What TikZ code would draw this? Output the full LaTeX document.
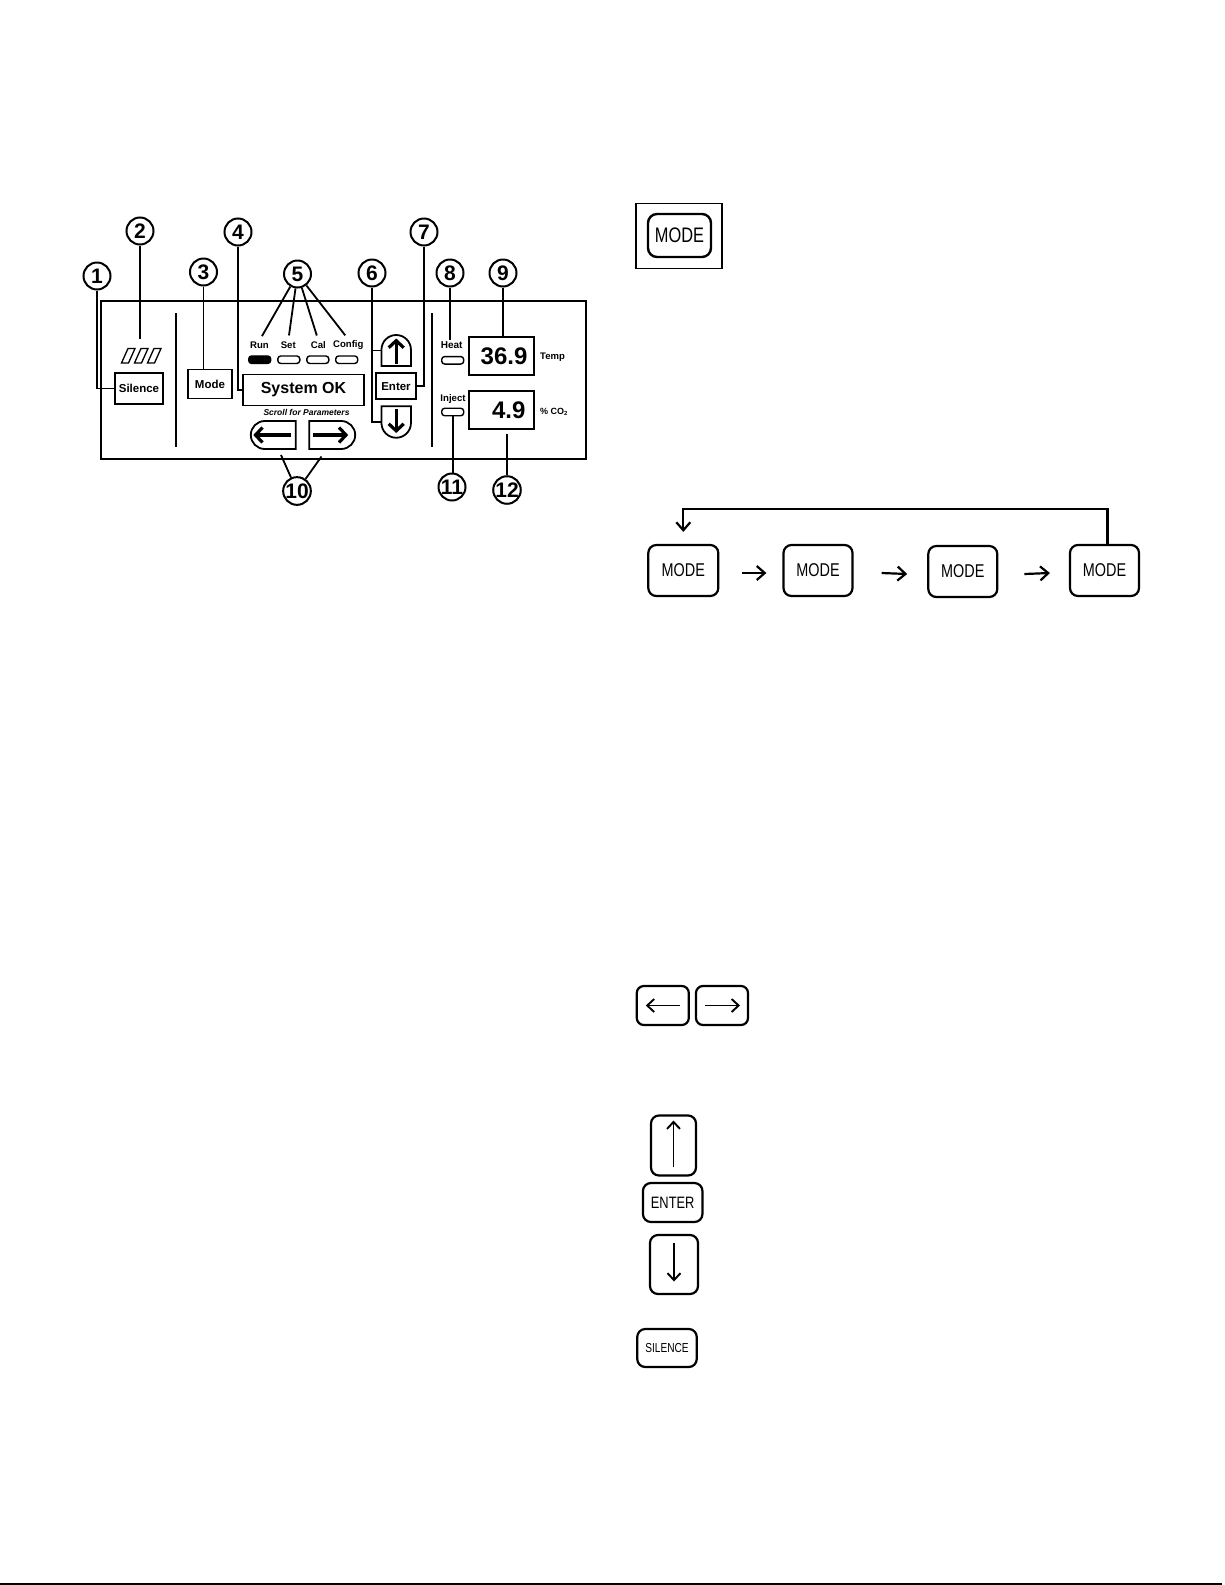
\documentclass[tikz,border=0pt]{standalone}
\usepackage{fontspec}
\setmainfont{Liberation Sans}
\newfontfamily\condsans[FakeStretch=0.78]{Liberation Sans}
\usetikzlibrary{arrows.meta,shapes.misc,positioning}

\tikzset{
  num/.style={circle,draw,line width=2pt,minimum size=27pt,inner sep=0pt,font=\fontsize{21}{21}\selectfont\bfseries},
  lead/.style={line width=1.8pt},
  panelkey/.style={draw,line width=1.8pt,inner sep=0pt},
  led/.style={draw,rounded corners=3pt,line width=1.4pt,minimum width=22pt,minimum height=7.5pt,inner sep=0pt},
  tag/.style={font=\fontsize{9.6}{10}\selectfont\bfseries,inner sep=1pt},
  softkey/.style={draw,rounded corners=8pt,line width=2.2pt,inner sep=0pt,font=\condsans\fontsize{18.5}{19}\selectfont},
  bigarrow/.style={line width=3.2pt,-{Straight Barb[length=7pt,width=15pt]}},
  keyarrow/.style={line width=1.9pt,-{Straight Barb[length=7pt,width=13pt]}},
  flow/.style={line width=2.2pt,-{Straight Barb[length=8pt,width=14pt]}},
}

\begin{document}
\begin{tikzpicture}[x=1pt,y=-1pt]
  \useasboundingbox (0,0) rectangle (1225,1585);

  % front panel
  \draw[line width=2pt] (101,301) rectangle (586,459);
  \draw[line width=1.5pt] (176,313) -- (176,447);
  \draw[line width=1.5pt] (432,313) -- (432,447);

  \node[num] (n1) at (97,276) {1};
  \node[num] (n2) at (140,231) {2};
  \node[num] (n3) at (203.5,272) {3};
  \node[num] (n4) at (238,232) {4};
  \node[num] (n5) at (297.5,274) {5};
  \node[num] (n6) at (372,273) {6};
  \node[num] (n7) at (424,232) {7};
  \node[num] (n8) at (450,273) {8};
  \node[num] (n9) at (503,273) {9};
  \node[num] (n10) at (297,491) {10};
  \node[num] (n11) at (452,487) {11};
  \node[num] (n12) at (507,490) {12};

  \node[panelkey,minimum width=48pt,minimum height=31pt,font=\fontsize{11.5}{12}\selectfont\bfseries] (silence) at (139,388.5) {Silence};
  \node[panelkey,minimum width=44pt,minimum height=29pt,font=\fontsize{11.5}{12}\selectfont\bfseries] (mode) at (210,384) {Mode};
  \node[panelkey,minimum width=121pt,minimum height=31pt,font=\fontsize{16}{16}\selectfont\bfseries] (sysok) at (303.5,390) {System OK};
  \node[panelkey,minimum width=40pt,minimum height=26pt,font=\fontsize{11.5}{12}\selectfont\bfseries] (enter) at (396,386.3) {Enter};
  \node[font=\fontsize{8.5}{9}\selectfont\bfseries\itshape] (scroll) at (306.5,412) {Scroll for Parameters};

  \node[panelkey,rounded rectangle,rounded rectangle east arc=none,minimum width=45pt,minimum height=28pt] (lft) at (273.3,435) {};
  \node[panelkey,rounded rectangle,rounded rectangle west arc=none,minimum width=46pt,minimum height=28pt] (rgt) at (332.2,435) {};
  \node[panelkey,rounded rectangle,rounded rectangle west arc=none,rotate=90,minimum width=31pt,minimum height=29.5pt] (up) at (396.2,350.5) {};
  \node[panelkey,rounded rectangle,rounded rectangle east arc=none,rotate=90,minimum width=31.5pt,minimum height=29.5pt] (down) at (396.2,422) {};
  \draw[bigarrow] ([xshift=18pt]lft.center) -- ([xshift=-20pt]lft.center);
  \draw[bigarrow] ([xshift=-19pt]rgt.center) -- ([xshift=16pt]rgt.center);
  \draw[bigarrow] ([yshift=-13pt]up.center) -- ([yshift=12pt]up.center);
  \draw[bigarrow] ([yshift=13pt]down.center) -- ([yshift=-11pt]down.center);

  \node[tag] (run) at (259.5,345) {Run};
  \node[tag] (set) at (288.3,345) {Set};
  \node[tag] (cal) at (318.3,345) {Cal};
  \node[tag] (config) at (348.3,345) {Config};
  \node[led,fill=black] (runled) at (259.7,359.7) {};
  \node[led] (setled) at (288.8,359.7) {};
  \node[led] (called) at (317.8,359.7) {};
  \node[led] (configled) at (346.7,359.7) {};

  \node[tag,font=\fontsize{10}{11}\selectfont\bfseries] (heat) at (451.7,345) {Heat};
  \node[tag,font=\fontsize{9.6}{11}\selectfont\bfseries] (inject) at (453,399.3) {Inject};
  \node[led] (heatled) at (452.7,360.3) {};
  \node[led] (injled) at (452.7,412) {};

  \node[panelkey,minimum width=65pt,minimum height=38pt] (temp) at (501.5,356) {};
  \node[font=\fontsize{24}{24}\selectfont\bfseries,anchor=east] (tempval) at ([xshift=-4pt]temp.east) {36.9};
  \node[tag,font=\fontsize{9.5}{10}\selectfont\bfseries,anchor=west] (templbl) at (539,357) {Temp};
  \node[panelkey,minimum width=65pt,minimum height=38.5pt] (co2) at (501.5,410) {};
  \node[font=\fontsize{24}{24}\selectfont\bfseries,anchor=east] (co2val) at ([xshift=-6pt]co2.east) {4.9};
  \node[tag,font=\fontsize{9}{10}\selectfont\bfseries,anchor=west] (co2lbl) at (539,412) {\% CO\textsubscript{2}};

  \foreach \i in {0,1,2}
    \draw[line width=1.3pt] ({121.5+13*\i},363) -- ({128.5+13*\i},363) -- ({135+13*\i},348.5) -- ({128+13*\i},348.5) -- cycle;
  \coordinate (alarm) at (140,339);
  \coordinate (l10a) at (281,455);
  \coordinate (l10b) at (321.5,456.5);

  \draw[lead] (n1) |- (silence);
  \draw[lead] (n2) -- (alarm);
  \draw[lead] (n3) -- (n3 |- mode.north);
  \draw[lead] (n4) |- (sysok.west);
  \foreach \t in {run,set,cal,config}
    \draw[lead,shorten >=5pt] (n5) -- (\t.north);
  \draw[lead] (n6) |- (down.north);
  \draw[lead] (n6 |- up.north) -- (up.north);
  \draw[lead] (n7) |- (enter.east);
  \draw[lead] (n8) -- (n8 |- heat.north);
  \draw[lead] (n9) -- (n9 |- temp.north);
  \draw[lead] (injled.south) -- (injled.south |- n11.north);
  \draw[lead,shorten <=4pt] (n12 |- co2.south) -- (n12);
  \draw[lead] (l10a) -- (n10);
  \draw[lead] (l10b) -- (n10);

  % keys
  \node[draw,line width=1.3pt,minimum width=86pt,minimum height=65pt] (modeframe) at (679,235.8) {};
  \node[softkey,minimum width=63pt,minimum height=43pt,rounded corners=9pt,line width=2.4pt,font=\condsans\fontsize{21}{21}\selectfont] (modekey) at (679.5,235.5) {MODE};

  \node[softkey,minimum width=70pt,minimum height=51pt] (m1) at (683.3,570.5) {MODE};
  \node[softkey,minimum width=69pt,minimum height=51pt] (m2) at (818,570.5) {MODE};
  \node[softkey,minimum width=69pt,minimum height=51pt] (m3) at (962.8,571.5) {MODE};
  \node[softkey,minimum width=69pt,minimum height=51pt] (m4) at (1104.5,570.5) {MODE};
  \draw[flow] ([xshift=23pt,yshift=-2.5pt]m1.east) -- ([xshift=-16pt,yshift=-2.5pt]m2.west);
  \draw[flow] ([xshift=28pt,yshift=-2.5pt]m2.east) -- ([xshift=-20pt,yshift=-2.5pt]m3.west);
  \draw[flow] ([xshift=26pt,yshift=-2.5pt]m3.east) -- ([xshift=-19pt,yshift=-2.5pt]m4.west);
  \draw[flow] ([xshift=3pt]m4.north) -- ++(0,-35) -| ([yshift=12pt]m1.north);

  \node[softkey,rounded corners=7pt,minimum width=52pt,minimum height=39pt] (leftkey) at (662.8,1005.5) {};
  \node[softkey,rounded corners=7pt,minimum width=52pt,minimum height=39pt] (rightkey) at (722,1005.5) {};
  \draw[keyarrow] ([xshift=17pt]leftkey.center) -- ([xshift=-17pt]leftkey.center);
  \draw[keyarrow] ([xshift=-17pt]rightkey.center) -- ([xshift=18pt]rightkey.center);

  \node[softkey,minimum width=45pt,minimum height=60pt] (upkey) at (673.5,1145.5) {};
  \draw[keyarrow] ([yshift=-21pt]upkey.center) -- ([yshift=25pt]upkey.center);
  \node[softkey,minimum width=59.5pt,minimum height=39pt,font=\condsans\fontsize{16.5}{17}\selectfont] (enterkey) at (672.7,1202.5) {ENTER};
  \node[softkey,minimum width=48pt,minimum height=59pt] (downkey) at (674,1264.5) {};
  \draw[keyarrow] ([yshift=21.5pt]downkey.center) -- ([yshift=-17pt]downkey.center);
  \node[softkey,minimum width=59.5pt,minimum height=38pt,font=\condsans\fontsize{13}{13}\selectfont] (silencekey) at (667,1348) {SILENCE};

  \draw[line width=1.5pt] (0,1584) -- (1222,1584);
\end{tikzpicture}
\end{document}
